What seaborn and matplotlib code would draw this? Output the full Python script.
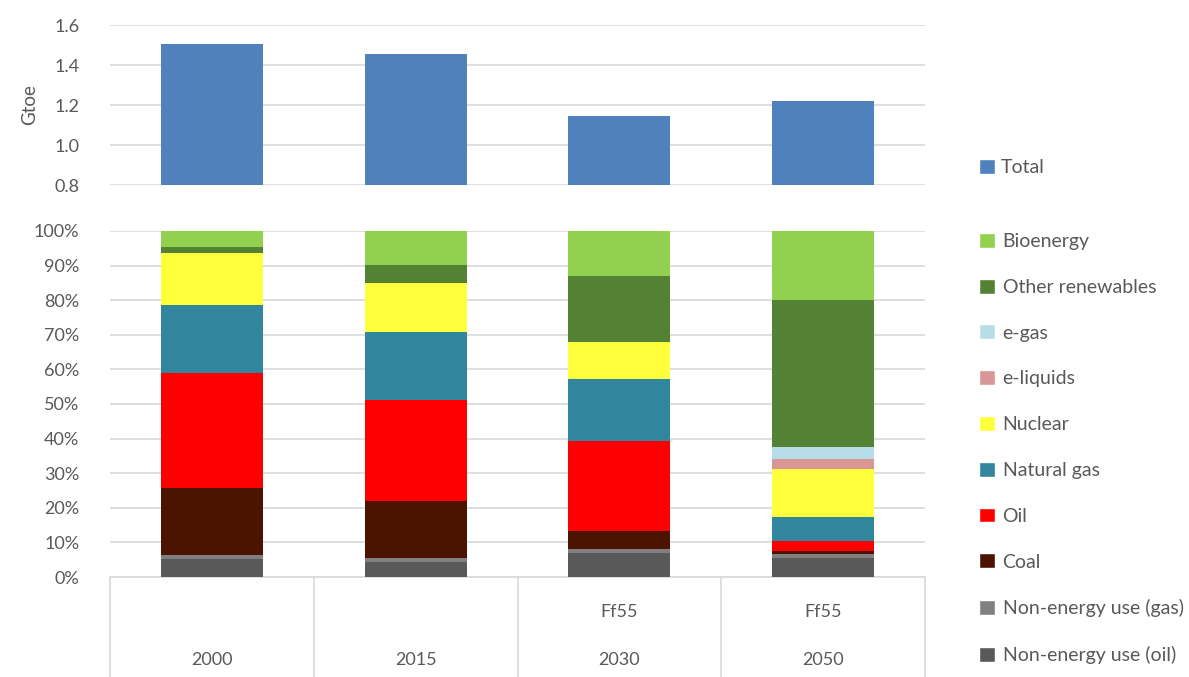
import numpy as np
import pandas as pd
import matplotlib
matplotlib.use("Agg")
import matplotlib.pyplot as plt
from matplotlib.patches import Patch
import seaborn as sns

sns.set_style("white")
plt.rcParams['font.family'] = ['Lato', 'DejaVu Sans']

# data
years = ['2000', '2015', '2030', '2050']
scenario = ['', '', 'Ff55', 'Ff55']
total = [1.505, 1.453, 1.147, 1.218]

# shares in %, listed bottom -> top of the stack
ne_oil = [5.1, 4.4, 6.8, 5.6]
ne_gas = [1.2, 1.1, 1.3, 1.0]
coal = [19.5, 16.4, 5.3, 1.0]
oil = [33.2, 29.2, 25.8, 2.9]
natural_gas = [19.7, 19.8, 17.9, 6.7]
nuclear = [15.0, 14.1, 10.7, 14.1]
e_liquids = [0.0, 0.0, 0.0, 2.7]
e_gas = [0.0, 0.0, 0.0, 3.6]
other_renew = [1.7, 5.2, 19.1, 42.6]
bioenergy = [4.6, 9.7, 13.1, 19.8]

components = [
    ('Non-energy use (oil)', ne_oil, '#595959'),
    ('Non-energy use (gas)', ne_gas, '#808080'),
    ('Coal', coal, '#4B1300'),
    ('Oil', oil, '#FF0000'),
    ('Natural gas', natural_gas, '#31859C'),
    ('Nuclear', nuclear, '#FFFF3C'),
    ('e-liquids', e_liquids, '#D99694'),
    ('e-gas', e_gas, '#B7DEE8'),
    ('Other renewables', other_renew, '#548235'),
    ('Bioenergy', bioenergy, '#92D050'),
]

txt = '#595959'
grid = '#D9D9D9'

fig = plt.figure(figsize=(11.89, 6.77), dpi=100)
ax1 = fig.add_axes([0.0925, 0.7267, 0.6855, 0.2363])
ax2 = fig.add_axes([0.0925, 0.1477, 0.6855, 0.5111])

# top panel: total
df_tot = pd.DataFrame({'year': years, 'total': total})
sns.barplot(data=df_tot, x='year', y='total', color='#4F81BD', width=0.5,
            saturation=1, linewidth=0, ax=ax1, zorder=3)
ax1.set_ylim(0.8, 1.6)
ax1.set_yticks(np.arange(0.8, 1.61, 0.2))
ax1.set_yticklabels([f'{v:.1f}' for v in np.arange(0.8, 1.61, 0.2)])
ax1.set_xlim(-0.5, 3.5)
ax1.set_xticks([])
ax1.set_xlabel('')
ax1.set_ylabel('Gtoe', color=txt, fontsize=13.5, labelpad=12)
ax1.grid(axis='y', color=grid, lw=1.2, zorder=0)
for s in ax1.spines.values():
    s.set_visible(False)
ax1.tick_params(axis='y', colors=txt, labelsize=13, length=0, pad=22)

# bottom panel: stacked shares (draw cumulative sums, tallest first)
df = pd.DataFrame({name: vals for name, vals, _ in components}, index=years)
cum = df.cumsum(axis=1)
for name, _, col in reversed(components):
    d = pd.DataFrame({'year': years, 'v': cum[name].values})
    sns.barplot(data=d, x='year', y='v', color=col, width=0.5, saturation=1,
                linewidth=0, ax=ax2, zorder=3)
ax2.set_ylim(0, 100)
ax2.set_xlim(-0.5, 3.5)
ax2.set_yticks(np.arange(0, 101, 10))
ax2.set_yticklabels([f'{v}%' for v in range(0, 101, 10)])
ax2.set_xticks([])
ax2.set_xlabel('')
ax2.set_ylabel('')
ax2.grid(axis='y', color=grid, lw=1.2, zorder=0)
for s in ax2.spines.values():
    s.set_visible(False)
ax2.tick_params(axis='y', colors=txt, labelsize=13, length=0, pad=22)

# category table below the bottom axis
tr = ax2.get_xaxis_transform()
ax2.plot([-0.5, 3.5], [0, 0], color=grid, lw=1.2, transform=tr, clip_on=False)
for xs in np.arange(-0.5, 3.6, 1.0):
    ax2.plot([xs, xs], [0, -0.3], color=grid, lw=1.2, transform=tr, clip_on=False)
for i, (yr, sc) in enumerate(zip(years, scenario)):
    ax2.text(i, -0.24, yr, transform=tr, ha='center', va='center', color=txt, fontsize=13)
    if sc:
        ax2.text(i, -0.1, sc, transform=tr, ha='center', va='center', color=txt, fontsize=13)

# legends
ax1.legend(handles=[Patch(facecolor='#4F81BD', label='Total')],
           loc='center left', bbox_to_anchor=(1.045, 0.11), frameon=False,
           fontsize=14, handlelength=0.8, handleheight=0.8, handletextpad=0.3,
           labelcolor=txt)
handles = [Patch(facecolor=col, label=name) for name, _, col in reversed(components)]
ax2.legend(handles=handles, loc='upper left', bbox_to_anchor=(1.045, 1.045), frameon=False,
           fontsize=14, handlelength=0.8, handleheight=0.8, handletextpad=0.4,
           labelspacing=1.47, labelcolor=txt)

fig.savefig('out.png', dpi=100)
